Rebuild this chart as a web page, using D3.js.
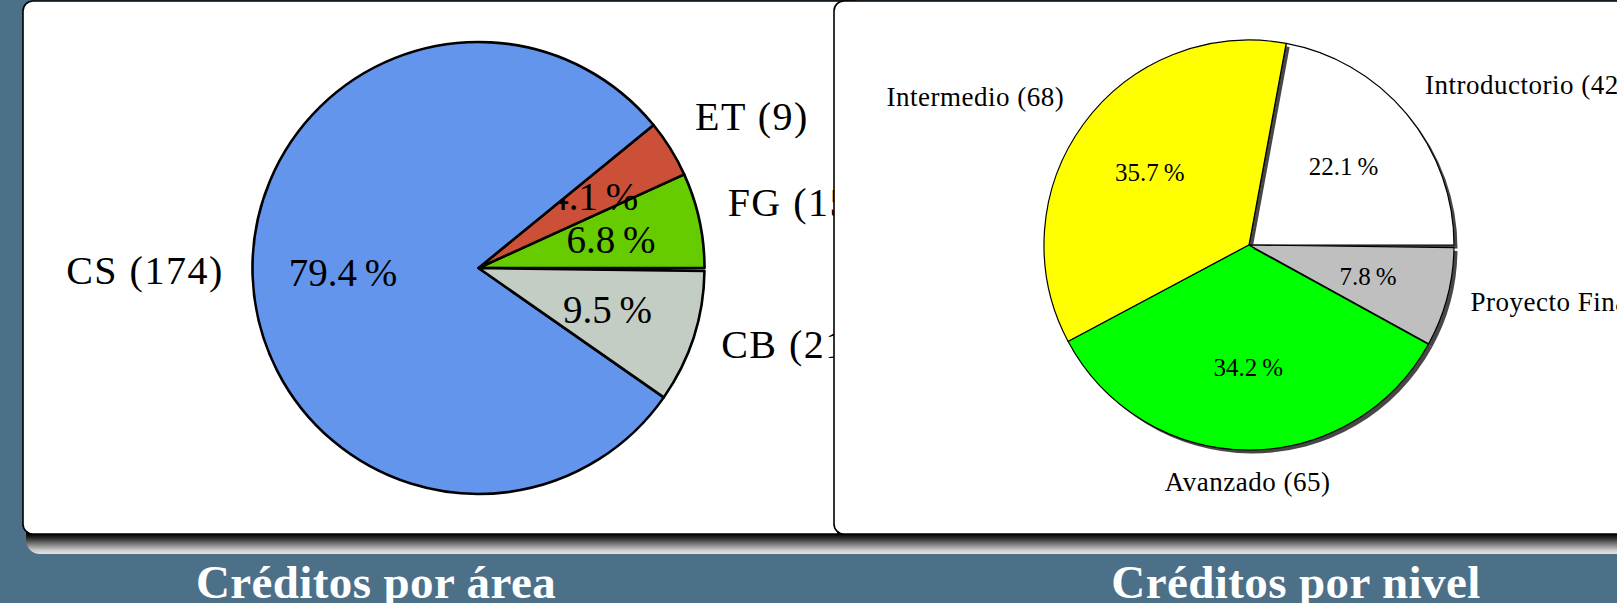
<!DOCTYPE html>
<html>
<head>
<meta charset="utf-8">
<script src="https://cdn.jsdelivr.net/npm/d3@7"></script>
<style>
  html, body { margin: 0; padding: 0; background: #4d7089; overflow: hidden; }
  svg { display: block; }
</style>
</head>
<body>
<svg id="chart"></svg>
<script>
// Credits by area (values are percentages, labels carry the credit counts)
const areaNames = ["FG", "ET", "CS", "CB"];
const areaCredits = [15, 9, 174, 21];
const areaPercents = [6.8, 4.1, 79.4, 9.5];
const areaColors = ["#66cc00", "#cc5038", "#6495ed", "#c3cdc3"];

// Credits by level
const levelNames = ["Introductorio", "Intermedio", "Avanzado", "Proyecto Final"];
const levelCredits = [42, 68, 65, 15];
const levelPercents = [22.1, 35.7, 34.2, 7.8];
const levelColors = ["#ffffff", "#ffff00", "#00ff00", "#bfbfbf"];

const titles = ["Créditos por área", "Créditos por nivel"];

const width = 1617, height = 603;
const panelBottom = 534;

const svg = d3.select("#chart")
  .attr("width", width)
  .attr("height", height);

svg.append("rect")
  .attr("width", width)
  .attr("height", height)
  .attr("fill", "#4d7089");

// gradient for the beamer-like box shadow
const defs = svg.append("defs");
const grad = defs.append("linearGradient")
  .attr("id", "shadowGrad")
  .attr("x1", 0).attr("y1", 0).attr("x2", 0).attr("y2", 1);
[[0, "#000"], [0.6, "#000"], [0.68, "#2a2a2a"], [0.8, "#7a7a7a"], [0.92, "#c8c8c8"], [1, "#e6e6e6"]]
  .forEach(s => grad.append("stop").attr("offset", s[0]).attr("stop-color", s[1]));

function drawPanel(x, w) {
  svg.append("rect")
    .attr("x", x + 3)
    .attr("y", panelBottom - 30)
    .attr("width", w)
    .attr("height", 50)
    .attr("rx", 14)
    .attr("fill", "url(#shadowGrad)");

  svg.append("rect")
    .attr("x", x)
    .attr("y", 1)
    .attr("width", w)
    .attr("height", panelBottom - 1)
    .attr("rx", 10)
    .attr("fill", "white")
    .attr("stroke", "black")
    .attr("stroke-width", 1.6);
}

// pgf-pie style: starts at 3 o'clock, goes counter-clockwise, values are percents
function drawPie(opt) {
  const total = d3.sum(opt.percents);
  const rows = opt.names.map((n, i) => ({
    name: n, credits: opt.credits[i], pct: opt.percents[i], color: opt.colors[i]
  }));

  const pie = d3.pie()
    .sort(null)
    .value(d => d.pct)
    .startAngle(Math.PI / 2)
    .endAngle(Math.PI / 2 - 2 * Math.PI * total / 100);

  const arc = d3.arc().innerRadius(0).outerRadius(opt.r);
  const pctArc = d3.arc().innerRadius(opt.r * 0.6).outerRadius(opt.r * 0.6);

  const g = svg.append("g")
    .attr("transform", `translate(${opt.cx},${opt.cy})`);

  pie(rows).forEach(d => {
    if (opt.shadow) {
      g.append("path")
        .attr("d", arc(d))
        .attr("transform", `translate(${opt.shadow},${opt.shadow})`)
        .attr("fill", "#000")
        .attr("fill-opacity", 0.72);
    }

    g.append("path")
      .attr("d", arc(d))
      .attr("fill", d.data.color)
      .attr("stroke", "black")
      .attr("stroke-width", opt.strokeWidth)
      .attr("stroke-linejoin", "round");

    const c = pctArc.centroid(d);
    g.append("text")
      .attr("x", c[0])
      .attr("y", c[1] + opt.pctFont * 0.34)
      .attr("text-anchor", "middle")
      .attr("font-family", "'Liberation Serif', serif")
      .attr("font-size", opt.pctFont)
      .attr("fill", "black")
      .text(d.data.pct.toFixed(1) + "\u2009%");

    // outer label
    const m = (d.startAngle + d.endAngle) / 2;
    const sx = Math.sin(m), cy = Math.cos(m);
    g.append("text")
      .attr("x", opt.r * opt.labelA * sx)
      .attr("y", -opt.r * opt.labelB * cy + opt.labelFont * 0.15)
      .attr("text-anchor", sx > 0.3 ? "start" : (sx < -0.3 ? "end" : "middle"))
      .attr("font-family", "'Liberation Serif', serif")
      .attr("font-size", opt.labelFont)
      .attr("letter-spacing", opt.labelSpacing)
      .attr("fill", "black")
      .text(`${d.data.name} (${d.data.credits})`);
  });
}

// left panel
drawPanel(23, 840);
drawPie({
  cx: 478.5, cy: 268, r: 226,
  names: areaNames, credits: areaCredits, percents: areaPercents, colors: areaColors,
  strokeWidth: 2.6, shadow: 0,
  pctFont: 39, labelFont: 40, labelA: 1.128, labelB: 1.21, labelSpacing: 1.5
});

// right panel
drawPanel(834, 840);
drawPie({
  cx: 1249, cy: 245, r: 205,
  names: levelNames, credits: levelCredits, percents: levelPercents, colors: levelColors,
  strokeWidth: 1.2, shadow: 3.5,
  pctFont: 25, labelFont: 27, labelA: 1.117, labelB: 1.18, labelSpacing: 0.5
});

// titles under the panels
const titleX = [376, 1296];
titles.forEach((t, i) => {
  svg.append("text")
    .attr("x", titleX[i])
    .attr("y", 598)
    .attr("text-anchor", "middle")
    .attr("font-family", "'Liberation Serif', serif")
    .attr("font-weight", "bold")
    .attr("font-size", 47)
    .attr("letter-spacing", 0.4)
    .attr("fill", "white")
    .text(t);
});
</script>
</body>
</html>
